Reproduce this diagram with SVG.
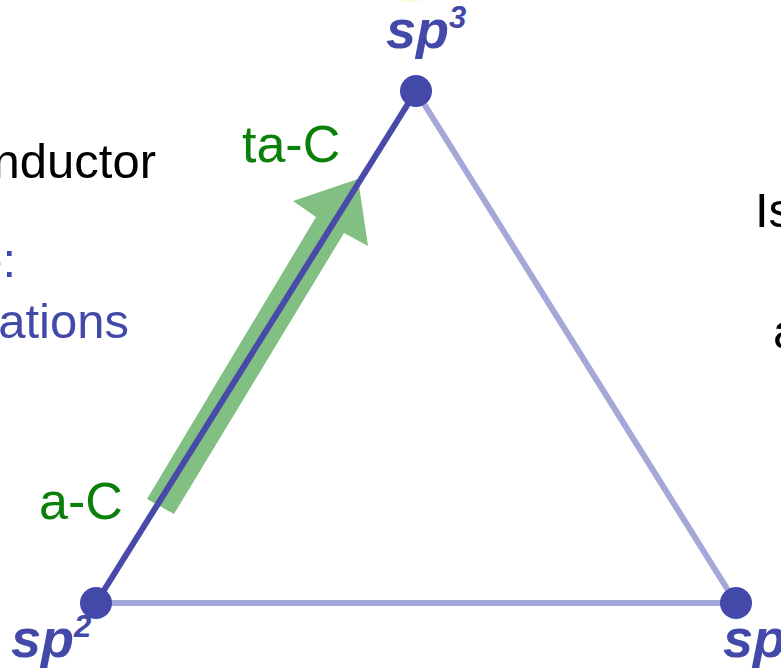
<svg xmlns="http://www.w3.org/2000/svg" width="781" height="669" viewBox="0 0 781 669">
<style>
.t{font-family:"Liberation Sans",Arial,sans-serif;font-size:49px}
.gt{font-family:"Liberation Sans",Arial,sans-serif;font-size:52px;fill:#0a800a}
.k{fill:#000}
.b{fill:#4349a8}
.sp{font-family:"Liberation Sans",Arial,sans-serif;font-size:54px;font-weight:bold;font-style:italic;fill:#4349a8}
.sup{font-size:31px}
.edge{fill:none;stroke-width:6}
.light{stroke:#a4a7d7}
.dark{stroke:#474aa9;stroke-width:6}
.node{fill:#4449a9}
</style>
<rect width="781" height="669" fill="#fff"/>
<ellipse cx="410" cy="-4" rx="14" ry="7" fill="#f6f1b0" opacity="0.35"/>
<g id="texts">
<text class="t k" x="156" y="178" text-anchor="end">nductor</text>
<text class="t b" x="16" y="277" text-anchor="end">e:</text>
<text class="t b" x="129" y="338" text-anchor="end">ations</text>
<text class="t k" x="755" y="227">Is</text>
<text class="t k" x="773" y="348">a</text>
</g>
<g id="arrow">
<polygon points="147,499 316,217 293,201 358,179 368,246 344,233 174,514" fill="#82bf82"/>
<text class="gt" x="242" y="162">ta-C</text>
<text class="gt" x="39" y="519">a-C</text>
</g>
<g id="connectors">
<line class="edge light" x1="416" y1="91" x2="736" y2="603"/>
<line class="edge light" x1="96" y1="603" x2="736" y2="603"/>
<line class="edge dark" x1="96" y1="603" x2="416" y2="91"/>
</g>
<g id="node-sp3">
<circle class="node" cx="416" cy="91" r="16"/>
<text class="sp" x="386" y="48">sp<tspan class="sup" dy="-20">3</tspan></text>
</g>
<g id="node-sp2">
<circle class="node" cx="96" cy="603" r="16"/>
<text class="sp" x="11" y="657">sp<tspan class="sup" dy="-20">2</tspan></text>
</g>
<g id="node-h">
<circle class="node" cx="736" cy="603" r="16"/>
<text class="sp" x="723" y="657">sp</text>
</g>
</svg>
